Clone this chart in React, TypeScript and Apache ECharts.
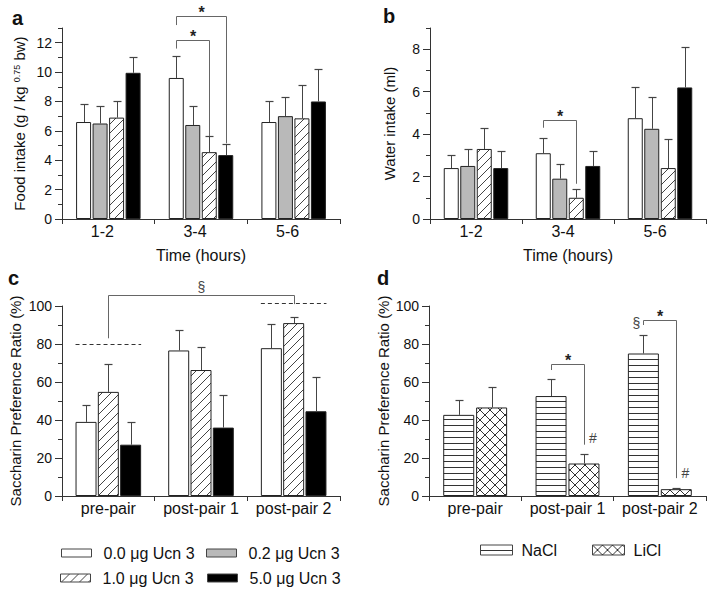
import React, { useEffect, useRef } from 'react';
import * as echarts from 'echarts';

// ---------- categories & names ----------
const timeCats = ['1-2', '3-4', '5-6'];
const pairCats = ['pre-pair', 'post-pair 1', 'post-pair 2'];
const doseNames = ['0.0 μg Ucn 3', '0.2 μg Ucn 3', '1.0 μg Ucn 3', '5.0 μg Ucn 3'];
const condNames = ['NaCl', 'LiCl'];

// ---------- panel a: food intake (g / kg^0.75 bw) ----------
const food00 = [6.6, 9.6, 6.6];
const food02 = [6.5, 6.4, 7.0];
const food10 = [6.9, 4.55, 6.85];
const food50 = [9.95, 4.35, 8.0];
const foodSem00 = [1.2, 1.5, 1.4];
const foodSem02 = [1.2, 1.3, 1.3];
const foodSem10 = [1.1, 1.1, 2.25];
const foodSem50 = [1.05, 0.75, 2.2];

// ---------- panel b: water intake (ml) ----------
const water00 = [2.4, 3.1, 4.75];
const water02 = [2.5, 1.9, 4.25];
const water10 = [3.3, 1.0, 2.4];
const water50 = [2.4, 2.5, 6.2];
const waterSem00 = [0.6, 0.72, 1.45];
const waterSem02 = [0.8, 0.7, 1.5];
const waterSem10 = [0.98, 0.4, 1.35];
const waterSem50 = [0.8, 0.7, 1.9];

// ---------- panel c: saccharin preference ratio (%) by dose ----------
const prefC00 = [39.0, 76.6, 77.8];
const prefC10 = [54.8, 66.3, 91.0];
const prefC50 = [27.0, 36.0, 44.6];
const prefCSem00 = [8.8, 10.7, 12.8];
const prefCSem10 = [14.5, 11.9, 3.2];
const prefCSem50 = [12.0, 17.4, 18.1];

// ---------- panel d: saccharin preference ratio (%) NaCl / LiCl ----------
const prefNaCl = [42.7, 52.6, 75.0];
const prefLiCl = [46.6, 17.1, 3.6];
const prefSemNaCl = [7.9, 9.2, 10.0];
const prefSemLiCl = [10.9, 5.2, 0.7];

// ---------- axis ticks ----------
const foodTicks = [0, 2, 4, 6, 8, 10, 12];
const foodMinor = [1, 3, 5, 7, 9, 11, 13];
const waterTicks = [0, 2, 4, 6, 8];
const waterMinor = [1, 3, 5, 7, 9];
const prefTicks = [0, 20, 40, 60, 80, 100];
const prefMinor = [10, 30, 50, 70, 90];

// ---------- significance annotations ----------
// bracket: [cat1, bar1, cat2, bar2, topValue, leftEndValue, rightEndValue]
const foodBrackets = [
  [1, 0, 1, 3, 13.8, 13.2, 5.15],
  [1, 0, 1, 2, 12.15, 11.6, 5.65],
];
const foodBracketLabels = ['*', '*'];
const waterBrackets = [[1, 0, 1, 2, 4.65, 4.3, 1.66]];
const waterBracketLabels = ['*'];
const prefCBrackets = [[0, 1, 2, 1, 105.6, 83, 101]];
const prefCBracketLabels = ['§'];
const prefCDashed = [[0, 80], [2, 101.4]]; // [category, value]
const prefDBrackets = [
  [1, 0, 1, 1, 69.5, 66.3, 27],
  [2, 0, 2, 1, 92.6, 90, 9.4],
];
const prefDBracketLabels = ['*', '*'];
// marks: [cat, bar, value, text]
const prefDMarks: [number, number, number, string][] = [
  [1, 1, 30.5, '#'],
  [2, 1, 12.0, '#'],
  [2, 0, 91.0, '§'],
];

const FONT = '"Liberation Sans", Arial, Helvetica, sans-serif';

function makePattern(kind: string) {
  const w = kind === 'hline' ? 6 : kind === 'cross' ? 10 : 9;
  const h = w;
  const cv = document.createElement('canvas');
  cv.width = w;
  cv.height = h;
  const ctx = cv.getContext('2d')!;
  ctx.fillStyle = '#ffffff';
  ctx.fillRect(0, 0, w, h);
  if (kind === 'hline') {
    ctx.fillStyle = '#333333';
    ctx.fillRect(0, h - 1, w, 1);
  } else {
    ctx.strokeStyle = kind === 'cross' ? '#333333' : '#444444';
    ctx.lineWidth = 1;
    ctx.beginPath();
    for (const k of [-w, 0, w]) {
      ctx.moveTo(k, h);
      ctx.lineTo(k + w, 0);
      if (kind === 'cross') {
        ctx.moveTo(k, 0);
        ctx.lineTo(k + w, h);
      }
    }
    ctx.stroke();
  }
  return { image: cv, repeat: 'repeat', imageWidth: w, imageHeight: h };
}

function barOffset(i: number, n: number, w: number, gap: number) {
  const total = n * w + (n - 1) * gap;
  return -total / 2 + w / 2 + i * (w + gap);
}

export default function App() {
  const ref = useRef<HTMLDivElement>(null);

  useEffect(() => {
    if (!ref.current) return;
    const chart = echarts.init(ref.current, undefined, { renderer: 'svg' });

    const border = { borderColor: '#222', borderWidth: 1 };
    const doseStyles: any[] = [
      { color: '#ffffff', ...border },
      { color: '#b9b9b9', ...border },
      { color: makePattern('hatch'), ...border },
      { color: '#000000', ...border },
    ];
    const condStyles: any[] = [
      { color: makePattern('hline'), ...border },
      { color: makePattern('cross'), ...border },
    ];

    // panel geometry (bar width / gap in px)
    const PW = [
      { w: 15, gap: 1.5, n: 4 },
      { w: 15, gap: 1.5, n: 4 },
      { w: 21, gap: 1.3, n: 3 },
      { w: 31, gap: 1.9, n: 2 },
    ];

    const grids = [
      { left: 62, top: 28, width: 278, height: 191 },
      { left: 430, top: 28, width: 276, height: 191 },
      { left: 62, top: 306, width: 278, height: 190 },
      { left: 429, top: 306, width: 277, height: 190 },
    ];

    const axisColor = '#333';
    const mkX = (g: number, cats: string[], name?: string, shift?: number) => ({
      type: 'category',
      gridIndex: g,
      data: cats,
      boundaryGap: true,
      axisLine: { lineStyle: { color: axisColor, width: 1 } },
      axisTick: { show: true, length: 5, lineStyle: { color: axisColor } },
      axisLabel: {
        fontSize: 16,
        color: '#111',
        margin: 4,
        fontFamily: FONT,
        interval: 0,
        padding: [0, shift || 0, 0, 0],
      },
      splitLine: { show: false },
      name: name || '',
      nameLocation: 'middle',
      nameGap: 28,
      nameTextStyle: { fontSize: 16, color: '#111', fontFamily: FONT },
    });
    const mkY = (g: number, max: number, ticks: number[], name: any, gap: number, rich?: any) => ({
      type: 'value',
      gridIndex: g,
      min: 0,
      max,
      position: 'left',
      axisLine: { show: true, lineStyle: { color: axisColor, width: 1 } },
      axisTick: { show: true, length: 7, customValues: ticks, lineStyle: { color: axisColor } },
      axisLabel: { fontSize: 14, color: '#111', margin: 10, fontFamily: FONT, customValues: ticks },
      splitLine: { show: false },
      name,
      nameLocation: 'middle',
      nameGap: gap,
      nameRotate: 90,
      nameTextStyle: { fontSize: 15, color: '#111', fontFamily: FONT, rich },
    });
    const mkMinor = (g: number, max: number, minor: number[]) => ({
      type: 'value',
      gridIndex: g,
      min: 0,
      max,
      position: 'left',
      axisLine: { show: false },
      axisTick: { show: true, length: 4, customValues: minor, lineStyle: { color: axisColor } },
      axisLabel: { show: false, customValues: minor },
      splitLine: { show: false },
    });

    const series: any[] = [];

    const addBars = (
      g: number,
      names: string[],
      styles: any[],
      means: number[][],
      sems: number[][]
    ) => {
      const { w, gap, n } = PW[g];
      means.forEach((m, i) => {
        series.push({
          type: 'bar',
          name: names[i],
          xAxisIndex: g,
          yAxisIndex: g,
          data: m,
          barWidth: w,
          barGap: `${(gap / w) * 100}%`,
          itemStyle: styles[i],
          emphasis: { disabled: true },
          silent: true,
          z: 2,
        });
      });
      means.forEach((m, i) => {
        const off = barOffset(i, n, w, gap);
        series.push({
          type: 'custom',
          xAxisIndex: g,
          yAxisIndex: g,
          silent: true,
          z: 3,
          data: m.map((v, k) => [k, v, v + sems[i][k]]),
          encode: { x: 0, y: [1, 2] },
          renderItem: (params: any, api: any) => {
            const p0 = api.coord([api.value(0), api.value(1)]);
            const p1 = api.coord([api.value(0), api.value(2)]);
            const x = Math.round(p0[0] + off) + 0.5;
            const y1 = Math.round(p1[1]) + 0.5;
            return {
              type: 'group',
              children: [
                {
                  type: 'line',
                  shape: { x1: x, y1: p0[1], x2: x, y2: y1 },
                  style: { stroke: '#444', lineWidth: 1 },
                },
                {
                  type: 'line',
                  shape: { x1: x - 4, y1, x2: x + 4, y2: y1 },
                  style: { stroke: '#444', lineWidth: 1.2 },
                },
              ],
            };
          },
        });
      });
    };

    const addBrackets = (g: number, brackets: number[][], labels: string[], labelStyle: any) => {
      const { w, gap, n } = PW[g];
      series.push({
        type: 'custom',
        xAxisIndex: g,
        yAxisIndex: g,
        silent: true,
        z: 4,
        data: brackets.map((b) => [b[0], b[4]]),
        renderItem: (params: any, api: any) => {
          const b = brackets[params.dataIndex];
          const xa = Math.round(api.coord([b[0], 0])[0] + barOffset(b[1], n, w, gap)) + 0.5;
          const xb = Math.round(api.coord([b[2], 0])[0] + barOffset(b[3], n, w, gap)) + 0.5;
          const yt = Math.round(api.coord([b[0], b[4]])[1]) + 0.5;
          const yl = api.coord([b[0], b[5]])[1];
          const yr = api.coord([b[2], b[6]])[1];
          return {
            type: 'group',
            children: [
              {
                type: 'polyline',
                shape: { points: [[xa, yl], [xa, yt], [xb, yt], [xb, yr]] },
                style: { stroke: '#666', lineWidth: 1, fill: 'none' },
              },
              {
                type: 'text',
                style: {
                  text: labels[params.dataIndex],
                  x: (xa + xb) / 2,
                  y: yt - labelStyle.dy,
                  align: 'center',
                  verticalAlign: 'middle',
                  fontSize: labelStyle.fontSize,
                  fontWeight: labelStyle.fontWeight,
                  fontFamily: FONT,
                  fill: labelStyle.fill,
                },
              },
            ],
          };
        },
      });
    };

    // panel a
    addBars(0, doseNames, doseStyles, [food00, food02, food10, food50], [foodSem00, foodSem02, foodSem10, foodSem50]);
    addBrackets(0, foodBrackets, foodBracketLabels, { dy: 4, fontSize: 16, fontWeight: 'bold', fill: '#222' });
    // panel b
    addBars(1, doseNames, doseStyles, [water00, water02, water10, water50], [waterSem00, waterSem02, waterSem10, waterSem50]);
    addBrackets(1, waterBrackets, waterBracketLabels, { dy: 4, fontSize: 16, fontWeight: 'bold', fill: '#222' });
    // panel c
    addBars(
      2,
      [doseNames[0], doseNames[2], doseNames[3]],
      [doseStyles[0], doseStyles[2], doseStyles[3]],
      [prefC00, prefC10, prefC50],
      [prefCSem00, prefCSem10, prefCSem50]
    );
    addBrackets(2, prefCBrackets, prefCBracketLabels, { dy: 9, fontSize: 14, fontWeight: 'normal', fill: '#444' });
    {
      const { w, gap, n } = PW[2];
      const total = n * w + (n - 1) * gap;
      series.push({
        type: 'custom',
        xAxisIndex: 2,
        yAxisIndex: 2,
        silent: true,
        z: 4,
        data: prefCDashed,
        renderItem: (params: any, api: any) => {
          const p = api.coord([api.value(0), api.value(1)]);
          const y = Math.round(p[1]) + 0.5;
          return {
            type: 'line',
            shape: { x1: p[0] - total / 2, y1: y, x2: p[0] + total / 2, y2: y },
            style: { stroke: '#333', lineWidth: 1, lineDash: [4, 3] },
          };
        },
      });
    }
    // panel d
    addBars(3, condNames, condStyles, [prefNaCl, prefLiCl], [prefSemNaCl, prefSemLiCl]);
    addBrackets(3, prefDBrackets, prefDBracketLabels, { dy: 4, fontSize: 16, fontWeight: 'bold', fill: '#222' });
    {
      const { w, gap, n } = PW[3];
      series.push({
        type: 'custom',
        xAxisIndex: 3,
        yAxisIndex: 3,
        silent: true,
        z: 4,
        data: prefDMarks.map((m) => [m[0], m[2]]),
        renderItem: (params: any, api: any) => {
          const m = prefDMarks[params.dataIndex];
          const p = api.coord([m[0], m[2]]);
          const dx = m[3] === '#' ? 9 : -7;
          return {
            type: 'text',
            style: {
              text: m[3],
              x: p[0] + barOffset(m[1], n, w, gap) + dx,
              y: p[1],
              align: 'center',
              verticalAlign: 'middle',
              fontSize: 14,
              fontFamily: FONT,
              fill: '#444',
            },
          };
        },
      });
    }

    const legendBase = {
      orient: 'horizontal',
      padding: 0,
      selectedMode: false,
      itemWidth: 30,
      itemHeight: 8,
      icon: 'rect',
      itemStyle: { borderColor: '#444', borderWidth: 1 },
      textStyle: { fontSize: 16, color: '#111', fontFamily: FONT, lineHeight: 16, padding: [0, 0, 0, 7] },
    };
    const legends = [
      { ...legendBase, left: 61, top: 545, data: [doseNames[0]] },
      { ...legendBase, left: 206, top: 545, data: [doseNames[1]] },
      { ...legendBase, left: 60, top: 570, data: [doseNames[2]] },
      { ...legendBase, left: 207, top: 570, data: [doseNames[3]] },
      { ...legendBase, left: 480, top: 542, itemWidth: 32, itemHeight: 10, data: [condNames[0]], textStyle: { ...legendBase.textStyle, padding: [0, 0, 0, 4] } },
      { ...legendBase, left: 592, top: 542, itemWidth: 32, itemHeight: 10, data: [condNames[1]], textStyle: { ...legendBase.textStyle, padding: [0, 0, 0, 4] } },
    ];

    const letter = (t: string, x: number, y: number) => ({
      type: 'text',
      left: x,
      top: y,
      style: { text: t, font: `bold 20px ${FONT}`, fill: '#111' },
    });

    chart.setOption({
      animation: false,
      backgroundColor: '#ffffff',
      grid: grids,
      xAxis: [
        mkX(0, timeCats, 'Time (hours)', 12),
        mkX(1, timeCats, 'Time (hours)', 10),
        mkX(2, pairCats),
        mkX(3, pairCats),
      ],
      yAxis: [
        mkY(0, 13, foodTicks, '{t|Food intake (g / kg }{s|0.75}{t| bw)}', 35, {
          t: { fontSize: 15, color: '#111', fontFamily: FONT },
          s: { fontSize: 9, color: '#111', fontFamily: FONT, verticalAlign: 'top' },
        }),
        mkY(1, 9, waterTicks, 'Water intake (ml)', 33),
        mkY(2, 100, prefTicks, 'Saccharin Preference Ratio (%)', 39),
        mkY(3, 100, prefTicks, 'Saccharin Preference Ratio (%)', 38),
        mkMinor(0, 13, foodMinor),
        mkMinor(1, 9, waterMinor),
        mkMinor(2, 100, prefMinor),
        mkMinor(3, 100, prefMinor),
      ],
      legend: legends,
      series,
      graphic: [
        letter('a', 12, 8),
        letter('b', 383, 6),
        letter('c', 8, 268),
        letter('d', 377, 268),
      ],
    });

    return () => chart.dispose();
  }, []);

  return (
    <div
      ref={ref}
      style={{ position: 'fixed', left: 0, top: 0, width: 714, height: 592, background: '#fff' }}
    />
  );
}
